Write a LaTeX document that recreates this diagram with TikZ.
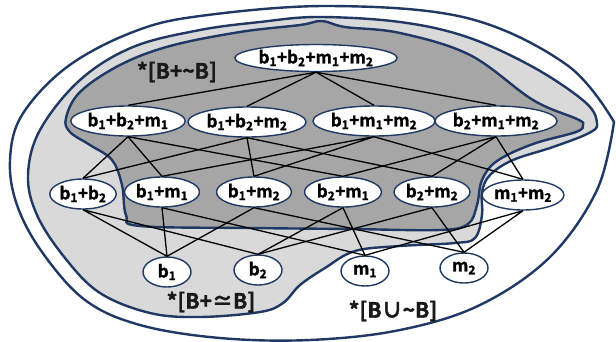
\documentclass[tikz,border=0pt]{standalone}
\usepackage{fontspec}
\setmainfont{Noto Sans CJK KR}[BoldFont={Noto Sans CJK KR Bold}, BoldFeatures={FakeBold=1.6}]
\usetikzlibrary{shapes.geometric}
\definecolor{navy}{HTML}{1F3864}
\definecolor{lightzone}{HTML}{D9D9D9}
\definecolor{darkzone}{HTML}{A6A6A6}
\newcommand{\bone}{b\textsubscript{1}}
\newcommand{\btwo}{b\textsubscript{2}}
\newcommand{\mone}{m\textsubscript{1}}
\newcommand{\mtwo}{m\textsubscript{2}}
\tikzset{
  elem/.style={ellipse, draw=navy, line width=1.4pt, fill=white, inner sep=0pt,
    minimum height=30pt, minimum width=48pt, font=\bfseries\fontsize{17}{18}\selectfont},
  zone/.style={draw=navy, line width=2.4pt},
  link/.style={black, line width=1.3pt},
  tag/.style={font=\bfseries\fontsize{21}{24}\selectfont, text=black!90}
}

\begin{document}
\begin{tikzpicture}[x=1pt, y=-1pt]
    \useasboundingbox (0,0) rectangle (616,341);

    %% the three zones
    \draw[zone, fill=white] plot[smooth, tension=0.6] coordinates {(614,122) (597,190) (550,257) (480,305) (400,330) (310,340) (220,338) (140,325) (85,300) (42,252) (17,205) (10,160) (22,115) (67,67) (133,32) (200,16) (330,6) (467,18) (567,65) (614,122)} -- cycle;
    \draw[zone, fill=lightzone] plot[smooth cycle, tension=0.6] coordinates {(28,175) (40,130) (80,80) (133,47) (200,30) (260,22) (318,17) (400,22) (467,37) (533,67) (585,102) (597,123) (589,133) (553,147) (513,160) (490,175) (482,192) (482,215) (475,238) (455,243) (400,246) (355,251) (325,268) (300,285) (283,303) (260,312) (200,317) (150,313) (100,293) (65,258) (37,215)};
    \draw[zone, fill=darkzone] plot[smooth cycle, tension=0.6] coordinates {(66,118) (80,92) (120,65) (170,46) (240,32) (300,25) (322,21) (345,27) (400,33) (470,55) (533,100) (577,119) (583,125) (576,132) (533,144) (497,161) (482,180) (477,205) (468,224) (440,230) (350,229) (250,228) (140,226) (126,215) (122,185) (112,160) (90,145) (70,132)};

    %% lattice
    \node[elem, minimum height=27pt] (b1b2m1m2) at (316,58) {\bone+\btwo+\mone+\mtwo};

    \node[elem] (b1b2m1) at (128,121) {\bone+\btwo+\mone};
    \node[elem, minimum width=118pt] (b1b2m2) at (247,122) {\bone+\btwo+\mtwo};
    \node[elem, minimum width=117pt] (b1m1m2) at (374,121) {\bone+\mone+\mtwo};
    \node[elem, minimum width=114pt] (b2m1m2) at (496,121) {\btwo+\mone+\mtwo};

    \node[elem, minimum width=60pt] (b1b2) at (83,194) {\bone+\btwo};
    \node[elem, minimum width=75pt] (b1m1) at (162,192) {\bone+\mone};
    \node[elem, minimum width=75pt] (b1m2) at (254,192) {\bone+\mtwo};
    \node[elem, minimum width=77pt] (b2m1) at (343,192) {\btwo+\mone};
    \node[elem, minimum width=76pt] (b2m2) at (432,192) {\btwo+\mtwo};
    \node[elem, minimum width=77pt] (m1m2) at (523,195) {\mone+\mtwo};

    \node[elem] (b1) at (167,272) {\bone};
    \node[elem] (b2) at (258,270) {\btwo};
    \node[elem] (m1) at (365,271) {\mone};
    \node[elem] (m2) at (464,268) {\mtwo};

    \draw[link] (b1b2m1m2.south) -- (b1b2m1.north) (b1b2m1m2.south) -- (b1b2m2.north)
                (b1b2m1m2.south) -- (b1m1m2.north) (b1b2m1m2.south) -- (b2m1m2.north);

    \draw[link] (b1b2m1.south) -- (b1b2.north) (b1b2m1.south) -- (b1m1.north) (b1b2m1.south) -- (b2m1.north);
    \draw[link] (b1b2m2.south) -- (b1b2.north) (b1b2m2.south) -- (b1m2.north) (b1b2m2.south) -- (b2m2.north);
    \draw[link] (b1m1m2.south) -- (b1m1.north) (b1m1m2.south) -- (b1m2.north) (b1m1m2.south) -- (m1m2.north);
    \draw[link] (b2m1m2.south) -- (b2m1.north) (b2m1m2.south) -- (b2m2.north) (b2m1m2.south) -- (m1m2.north);

    \draw[link] (b1b2.south) -- (b1.north) (b1b2.south) -- (b2.north);
    \draw[link] (b1m1.south) -- (b1.north) (b1m1.south) -- (m1.north);
    \draw[link] (b1m2.south) -- (b1.north) (b1m2.south) -- (m2.north);
    \draw[link] (b2m1.south) -- (b2.north) (b2m1.south) -- (m1.north);
    \draw[link] (b2m2.south) -- (b2.north) (b2m2.south) -- (m2.north);
    \draw[link] (m1m2.south) -- (m1.north) (m1m2.south) -- (m2.north);

    %% zone names
    \node[tag] (tagdark) at (177,72) {*[B+\char`~B]};
    \node[tag] (taglight) at (211,302) {*[B+≃B]};
    \node[tag] (tagouter) at (393,311) {*[B∪\char`~B]};

\end{tikzpicture}
\end{document}
